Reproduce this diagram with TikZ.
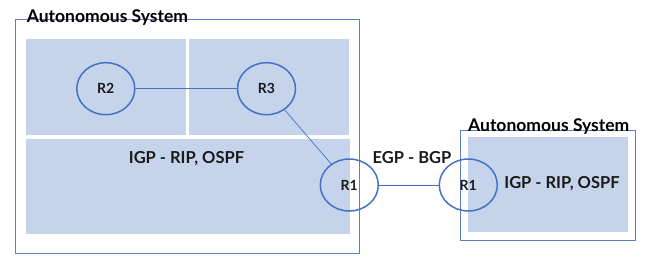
\documentclass[tikz,border=0pt]{standalone}
\usepackage{fontspec}
\setmainfont{Lato}
\usetikzlibrary{shapes.geometric}
\definecolor{asline}{HTML}{5B7FC4}
\definecolor{areafill}{HTML}{C5D3EB}
\definecolor{rtline}{HTML}{4472C4}
\definecolor{inkdark}{HTML}{1A1A1A}

\begin{document}
\begin{tikzpicture}[x=1pt,y=-1pt,font=\bfseries,
    router/.style={draw=rtline,line width=1.5pt,ellipse,inner sep=0pt,
                   minimum width=58pt,minimum height=52pt,font=\fontsize{14}{16}\selectfont\bfseries,text=inkdark},
    asbox/.style={draw=asline,line width=0.9pt},
    area/.style={fill=areafill},
    aslabel/.style={anchor=base west,inner sep=0pt,text=black,font=\fontsize{17.5}{20}\selectfont\bfseries},
    proto/.style={text=inkdark,font=\fontsize{16.5}{20}\selectfont\bfseries},
    link/.style={draw=rtline,line width=0.7pt}]
    \useasboundingbox (0,0) rectangle (646,268);

    % left autonomous system
    \draw[asbox] (15.3,19.3) rectangle (359.3,253.3);
    \fill[area] (26,39) rectangle (185.7,134.7);
    \fill[area] (189,39) rectangle (348.7,134.7);
    \fill[area] (26,138.7) rectangle (349.7,234.3);
    \node[aslabel] (asleft) at (26.7,22) {Autonomous System};
    \node[proto] (igpleft) at (186.5,159) {IGP - RIP, OSPF};

    % right autonomous system
    \draw[asbox] (460.3,130.7) rectangle (635,240);
    \fill[area] (467.7,136.7) rectangle (628,231.7);
    \node[aslabel] (asright) at (468,131) {Autonomous System};
    \node[proto] (igpright) at (562,184) {IGP - RIP, OSPF};

    % routers
    \node[router] (r2) at (105.8,88.7) {R2};
    \node[router] (r3) at (266.5,88.7) {R3};
    \node[router] (r1a) at (349.3,185) {R1};
    \node[router] (r1b) at (468.3,185) {R1};

    % links
    \draw[link] (r2) -- (r3);
    \draw[link] (r3) -- (r1a);
    \draw[link] (r1a) -- (r1b);
    \node[proto] (egp) at (412,158) {EGP - BGP};
\end{tikzpicture}
\end{document}
